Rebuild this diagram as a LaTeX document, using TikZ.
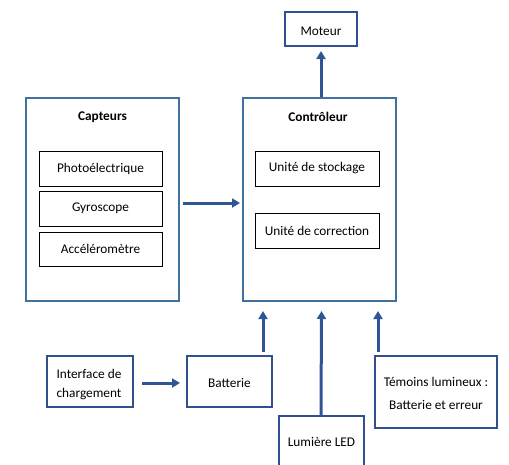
\documentclass[tikz,border=0pt]{standalone}
\usepackage{fontspec}
\setmainfont{Carlito}
\usetikzlibrary{arrows.meta}
\definecolor{outerblue}{HTML}{41719C}
\definecolor{boxblue}{HTML}{2F528F}
\definecolor{arrblue}{HTML}{2F5597}
\tikzset{
  outerbox/.style={draw=outerblue, line width=2pt, rectangle, inner sep=0pt},
  innerbox/.style={draw=black, line width=0.9pt, rectangle, inner sep=0pt, font=\fontsize{13.3}{16}\selectfont},
  bluebox/.style={draw=boxblue, line width=2pt, rectangle, inner sep=0pt, font=\fontsize{13.3}{16}\selectfont},
  txt/.style={font=\fontsize{13.3}{16}\selectfont, inner sep=0pt},
  ttl/.style={font=\fontsize{13.3}{16}\selectfont\bfseries, inner sep=0pt},
  arr/.style={draw=arrblue, line width=3pt, -{Triangle[length=8pt,width=9pt]}},
}
\begin{document}
\begin{tikzpicture}[x=1pt,y=-1pt]
\useasboundingbox (0,0) rectangle (509,464);
\clip (0,0) rectangle (509,464);
% outer containers
\node[outerbox, minimum width=153pt, minimum height=203pt] (capt) at (102.5,199.5) {};
\node[outerbox, minimum width=153pt, minimum height=203pt] (ctrl) at (319.5,199.5) {};
\node[ttl] (captt) at (102.5,117) {Capteurs};
\node[ttl] (ctrlt) at (318,117) {Contrôleur};
% inner boxes
\node[innerbox, minimum width=123pt, minimum height=35pt] (photo) at (100.5,168.5) {Photoélectrique};
\node[innerbox, minimum width=123pt, minimum height=35pt] (gyro) at (100.5,208.5) {Gyroscope};
\node[innerbox, minimum width=123pt, minimum height=34pt] (accel) at (100.5,249) {Accéléromètre};
\node[innerbox, minimum width=124pt, minimum height=35pt] (stock) at (317,168.5) {Unité de stockage};
\node[innerbox, minimum width=124pt, minimum height=35pt] (corr) at (317,230.5) {Unité de correction};
% blue boxes
\node[bluebox, minimum width=72pt, minimum height=34pt] (mot) at (321,29) {};
\node[txt] (mott) at (321,31) {Moteur};
\node[bluebox, minimum width=86pt, minimum height=51pt] (intf) at (90,381.5) {};
\node[txt, align=left] (intft) at (89,385) {Interface de\\[3pt]chargement};
\node[bluebox, minimum width=85pt, minimum height=51pt] (batt) at (229.5,381.5) {};
\node[txt] (battt) at (229.5,383) {Batterie};
\node[bluebox, minimum width=85pt, minimum height=64pt, anchor=north] (lum) at (321.5,415) {};
\node[txt] (lumt) at (321.5,442) {Lumière LED};
\node[bluebox, minimum width=122pt, minimum height=72pt] (tem) at (436,392) {};
\node[txt, align=center] (temt) at (436,393.5) {Témoins lumineux :\\[7pt]Batterie et erreur};
% connectors
\draw[arr] ([xshift=3pt,yshift=-3.5pt]capt.east) -- ([xshift=-2pt,yshift=-3.5pt]ctrl.west);
\draw[arr] (ctrl.north -| mot.south) -- ([yshift=-4pt]mot.south);
\coordinate (bsrc) at ([xshift=33.5pt,yshift=3pt]batt.north);
\draw[arr] (bsrc) -- ([yshift=-9pt]ctrl.south -| bsrc);
\draw[arr] ([xshift=-0.5pt]lum.north) -- ([yshift=-9pt]ctrl.south -| lum.north);
\coordinate (tsrc) at ([xshift=-58pt,yshift=3pt]tem.north);
\draw[arr] (tsrc) -- ([yshift=-9pt]ctrl.south -| tsrc);
\draw[arr] ([xshift=8pt,yshift=-1.5pt]intf.east) -- ([xshift=-6pt,yshift=-1.5pt]batt.west);
\end{tikzpicture}
\end{document}
